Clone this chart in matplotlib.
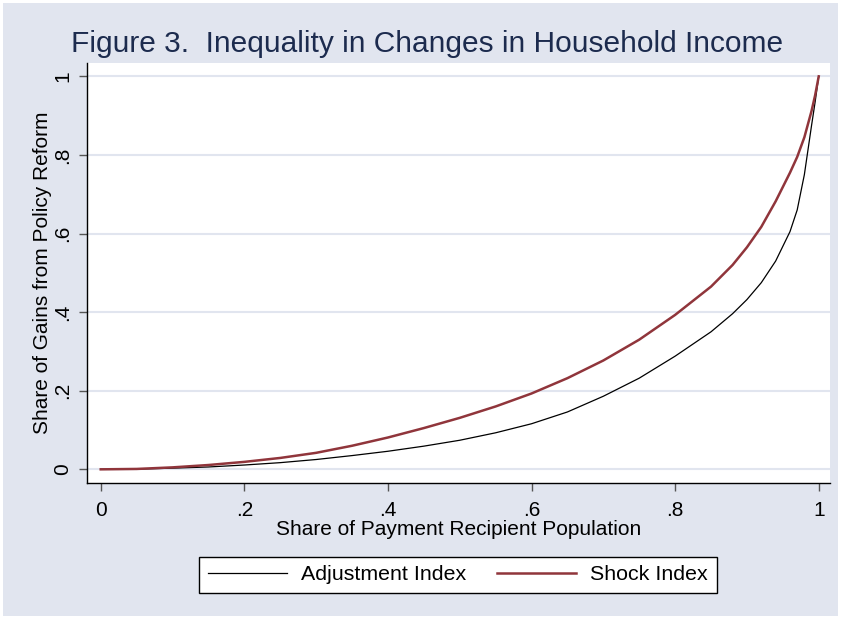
import numpy as np
import matplotlib
matplotlib.use('Agg')
import matplotlib.pyplot as plt
from matplotlib.patches import Rectangle

plt.rcParams['font.family'] = ['Liberation Sans', 'DejaVu Sans']

# share of payment recipient population (x) and share of gains (y)
pop = [0, 0.05, 0.1, 0.15, 0.2, 0.25, 0.3, 0.35, 0.4, 0.45, 0.5, 0.55, 0.6,
       0.65, 0.7, 0.75, 0.8, 0.85, 0.88, 0.9, 0.92, 0.94, 0.96, 0.97, 0.98,
       0.99, 0.995, 1.0]
shock_idx = [0, 0.001, 0.005, 0.011, 0.019, 0.029, 0.042, 0.060, 0.081, 0.105,
             0.131, 0.160, 0.193, 0.232, 0.277, 0.330, 0.393, 0.465, 0.520,
             0.565, 0.617, 0.682, 0.755, 0.795, 0.845, 0.912, 0.952, 1.0]
adjust_idx = [0, 0.0005, 0.003, 0.006, 0.011, 0.017, 0.025, 0.035, 0.046, 0.059,
              0.074, 0.093, 0.116, 0.146, 0.186, 0.232, 0.288, 0.350, 0.396,
              0.432, 0.475, 0.530, 0.605, 0.660, 0.750, 0.875, 0.935, 1.0]

ticks = [0, 0.2, 0.4, 0.6, 0.8, 1.0]
tick_labels = ['0', '.2', '.4', '.6', '.8', '1']

bg = '#E1E5EF'
title_col = '#1C2B4E'
maroon = '#90353B'

W, H = 841, 619
fig = plt.figure(figsize=(W / 100, H / 100), dpi=100, facecolor='white')
# stata-style bluish gray outer region with a thin white border
fig.patches.append(Rectangle((3 / W, 3 / H), 1 - 6 / W, 1 - 6 / H,
                             transform=fig.transFigure, facecolor=bg,
                             edgecolor='none', zorder=-10))

ax = fig.add_axes([87.3 / W, 1 - 482.7 / H, (830 - 87.3) / W, (482.7 - 63) / H])
ax.set_facecolor('white')

ax.plot(pop, adjust_idx, color='black', lw=0.9, label='Adjustment Index')
ax.plot(pop, shock_idx, color=maroon, lw=1.8, label='Shock Index')

ax.set_xlim(-0.0187, 1.0157)
ax.set_ylim(-0.034, 1.034)
ax.set_xticks(ticks)
ax.set_xticklabels(tick_labels)
ax.set_yticks(ticks)
ax.set_yticklabels(tick_labels, rotation=90, va='center')
ax.grid(axis='y', color=bg, lw=1.5)
ax.set_axisbelow(True)

for s in ['top', 'right']:
    ax.spines[s].set_visible(False)
for s in ['left', 'bottom']:
    ax.spines[s].set_color('black')
    ax.spines[s].set_linewidth(1.0)
ax.tick_params(direction='out', length=6, width=1, color='#555555',
               labelsize=15)
ax.tick_params(axis='x', pad=7)
ax.tick_params(axis='y', pad=5)

ax.set_xlabel('Share of Payment Recipient Population', fontsize=15)
ax.set_ylabel('Share of Gains from Policy Reform', fontsize=15)
ax.xaxis.set_label_coords(0.5, (482.7 - 520) / 419.7)
ax.yaxis.set_label_coords((52 - 87.3) / 742.7, 0.5)

fig.text(427.5 / W, (H - 52) / H, 'Figure 3.  Inequality in Changes in Household Income',
         ha='center', va='baseline', fontsize=21.5, color=title_col)

leg = fig.legend(loc='center', bbox_to_anchor=(458 / W, 1 - 575 / H), ncol=2,
                 fontsize=15.4, fancybox=False, edgecolor='black', framealpha=1,
                 handlelength=3.7, columnspacing=1.45, handletextpad=0.65,
                 borderpad=0.4)
leg.get_frame().set_linewidth(1.0)

fig.savefig('out.png', dpi=100, facecolor=fig.get_facecolor())
